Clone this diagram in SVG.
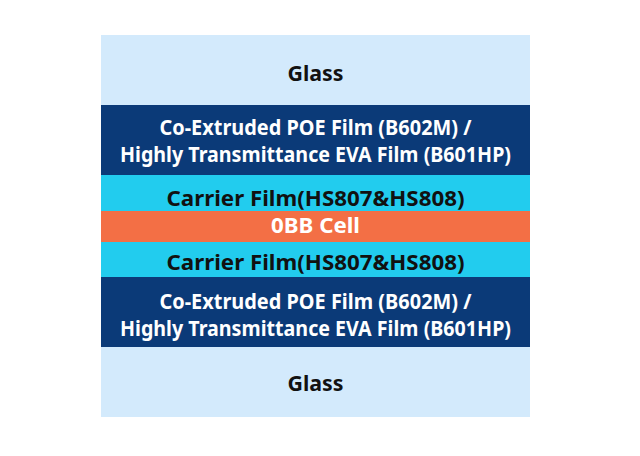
<svg xmlns="http://www.w3.org/2000/svg" width="640" height="456" viewBox="0 0 640 456">
<style>
text{font-family:"Noto Sans","Open Sans","Liberation Sans",sans-serif;font-weight:bold;text-anchor:middle;font-size:21px}
.w{fill:#ffffff}
.k{fill:#111111}
</style>
<rect width="640" height="456" fill="#ffffff"/>
<g id="glass-top"><rect x="101" y="35" width="429" height="70" fill="#d3eafc"/><text class="k" x="315.5" y="81" textLength="56" lengthAdjust="spacingAndGlyphs">Glass</text></g>
<g id="poe-top"><rect x="101" y="105" width="429" height="70" fill="#0b3a78"/><text class="w" x="315.5" y="135" textLength="312" lengthAdjust="spacingAndGlyphs">Co-Extruded POE Film (B602M) /</text><text class="w" x="315.5" y="162" textLength="391" lengthAdjust="spacingAndGlyphs">Highly Transmittance EVA Film (B601HP)</text></g>
<g id="carrier-top"><rect x="101" y="175" width="429" height="36" fill="#22ccee"/><text class="k" x="315.5" y="205.5" textLength="298" lengthAdjust="spacingAndGlyphs">Carrier Film(HS807&amp;HS808)</text></g>
<g id="cell"><rect x="101" y="211" width="429" height="31" fill="#f36f45"/><text class="w" x="315.5" y="233" textLength="89" lengthAdjust="spacingAndGlyphs">0BB Cell</text></g>
<g id="carrier-bottom"><rect x="101" y="242" width="429" height="35" fill="#22ccee"/><text class="k" x="315.5" y="269.5" textLength="298" lengthAdjust="spacingAndGlyphs">Carrier Film(HS807&amp;HS808)</text></g>
<g id="poe-bottom"><rect x="101" y="277" width="429" height="70" fill="#0b3a78"/><text class="w" x="315.5" y="309" textLength="312" lengthAdjust="spacingAndGlyphs">Co-Extruded POE Film (B602M) /</text><text class="w" x="315.5" y="336" textLength="391" lengthAdjust="spacingAndGlyphs">Highly Transmittance EVA Film (B601HP)</text></g>
<g id="glass-bottom"><rect x="101" y="347" width="429" height="70" fill="#d3eafc"/><text class="k" x="315.5" y="390.5" textLength="56" lengthAdjust="spacingAndGlyphs">Glass</text></g>
<g id="connectors"/>
</svg>
